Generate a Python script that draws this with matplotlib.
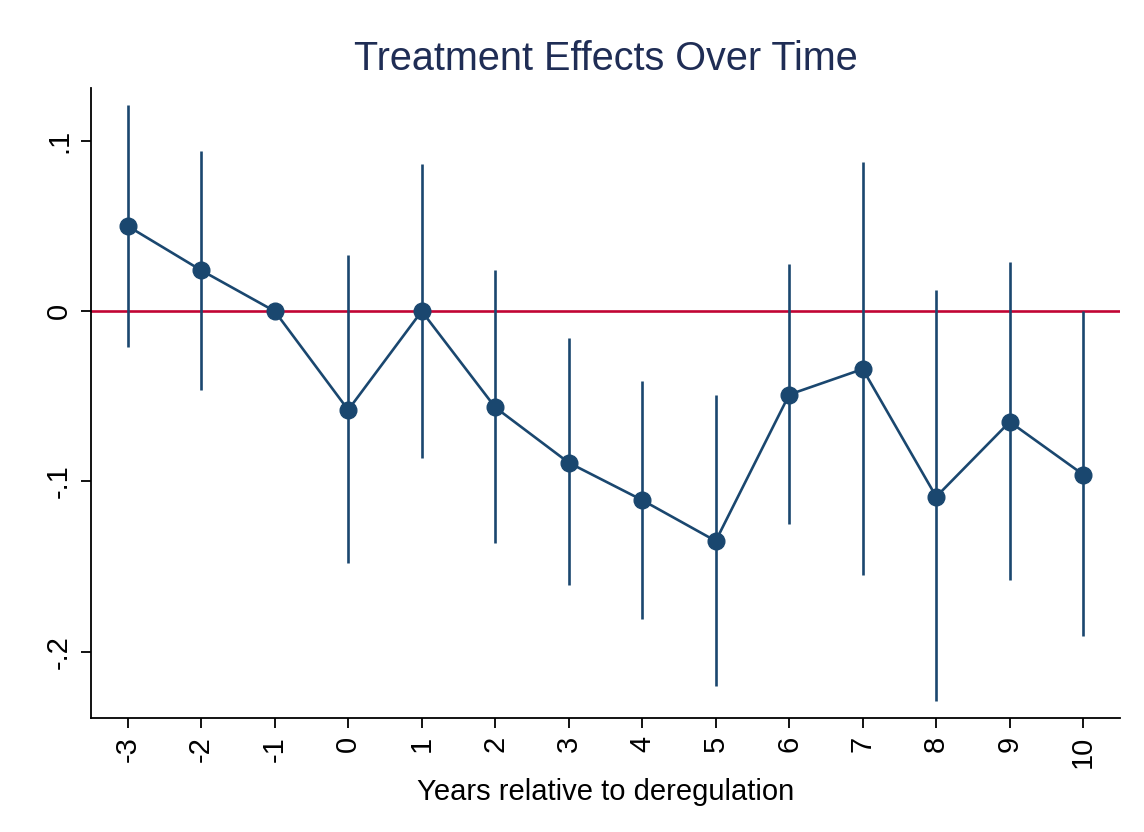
import matplotlib
matplotlib.use("Agg")
import matplotlib.pyplot as plt

# ============================================
# DATA
# ============================================
years = [-3, -2, -1, 0, 1, 2, 3, 4, 5, 6, 7, 8, 9, 10]
coef = [0.050, 0.024, 0.0, -0.058, 0.0, -0.0565, -0.089, -0.111, -0.135,
        -0.049, -0.034, -0.109, -0.065, -0.096]
ci_low = [-0.021, -0.0465, 0.0, -0.148, -0.0865, -0.136, -0.161, -0.181,
          -0.220, -0.125, -0.155, -0.229, -0.158, -0.191]
ci_high = [0.121, 0.094, 0.0, 0.033, 0.0865, 0.024, -0.016, -0.041,
           -0.0495, 0.028, 0.0875, 0.0125, 0.0288, 0.0]
y_ticks = [0.1, 0.0, -0.1, -0.2]
y_tick_labels = [".1", "0", "-.1", "-.2"]

navy = "#1a476f"
red = "#c10534"

plt.rcParams['font.family'] = ['Liberation Sans', 'DejaVu Sans']

fig = plt.figure(figsize=(11.44, 8.32), dpi=100)
ax = fig.add_axes([0.0795, 0.137, 0.8995, 0.757])

# reference line at zero
ax.axhline(0, color=red, lw=1.9, zorder=1)

# confidence intervals
ax.vlines(years, ci_low, ci_high, color=navy, lw=1.9, zorder=2)

# point estimates
ax.plot(years, coef, color=navy, lw=1.9, marker='o', markersize=12, zorder=3)

ax.set_xlim(-3.5, 10.5)
ax.set_ylim(-0.239, 0.131)
ax.set_xticks(years)
ax.set_xticklabels([str(y) for y in years], rotation=90, fontsize=21)
ax.set_yticks(y_ticks)
ax.set_yticklabels(y_tick_labels, rotation=90, va='center', fontsize=21)
ax.tick_params(axis='both', length=7, width=1.3, direction='out', pad=6)

for side in ['top', 'right']:
    ax.spines[side].set_visible(False)
for side in ['left', 'bottom']:
    ax.spines[side].set_linewidth(1.3)

ax.set_xlabel("Years relative to deregulation", fontsize=21, labelpad=7)
ax.set_title("Treatment Effects Over Time", fontsize=28.5, color="#1f2d55", pad=13)

fig.savefig("out.png", dpi=100, facecolor="white")
